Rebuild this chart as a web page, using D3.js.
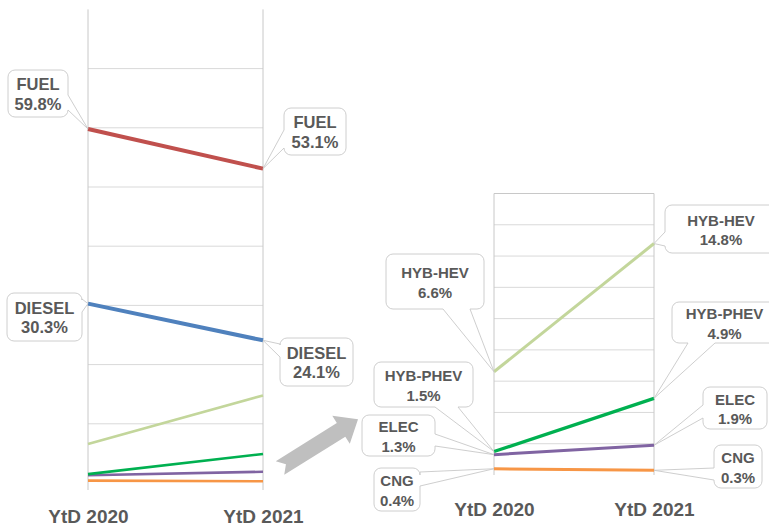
<!DOCTYPE html>
<html><head><meta charset="utf-8">
<script src="https://cdn.jsdelivr.net/npm/d3@7"></script>
<style>html,body{margin:0;padding:0;background:#fff;}svg{display:block;font-family:"Liberation Sans",Arial,sans-serif;}</style>
</head><body>
<script>
const categories = ["YtD 2020", "YtD 2021"];
const series = ["FUEL", "DIESEL", "HYB-HEV", "HYB-PHEV", "ELEC", "CNG"];
const ytd2020 = [59.8, 30.3, 6.6, 1.5, 1.3, 0.4];
const ytd2021 = [53.1, 24.1, 14.8, 4.9, 1.9, 0.3];
const leftTicks = [10, 20, 30, 40, 50, 60, 70];
const rightTicks = [2, 4, 6, 8, 10, 12, 14, 16];
const zoomSeries = ["HYB-HEV", "HYB-PHEV", "ELEC", "CNG"];

const colors = {"FUEL":"#c0504d","DIESEL":"#4f81bd","HYB-HEV":"#c3d69b","HYB-PHEV":"#00b050","ELEC":"#8064a2","CNG":"#f79646"};
const textColor = "#595959";

const W = 769, H = 526;
const svg = d3.select("body").append("svg").attr("width", W).attr("height", H);

const rows = series.map((s, i) => ({name: s, values: [ytd2020[i], ytd2021[i]]}));

// scales
const xL = d3.scalePoint().domain(categories).range([88, 263]);
const yL = d3.scaleLinear().domain([0, 80]).range([483, 9.4]);
const xR = d3.scalePoint().domain(categories).range([494, 654]);
const yR = d3.scaleLinear().domain([0, 18]).range([475, 193.5]);

// ---- left chart frame
const gL = svg.append("g");
gL.selectAll("line.grid").data(leftTicks).join("line")
  .attr("x1", xL(categories[0])).attr("x2", xL(categories[1]))
  .attr("y1", d => yL(d)).attr("y2", d => yL(d))
  .attr("stroke", "#d9d9d9").attr("stroke-width", 1);
gL.selectAll("line.vert").data(categories).join("line")
  .attr("x1", d => xL(d)).attr("x2", d => xL(d))
  .attr("y1", yL(80)).attr("y2", 490)
  .attr("stroke", "#c8c8c8").attr("stroke-width", 1);

// ---- right chart frame
const gR = svg.append("g");
gR.selectAll("line.grid").data(rightTicks).join("line")
  .attr("x1", xR(categories[0])).attr("x2", xR(categories[1]))
  .attr("y1", d => yR(d)).attr("y2", d => yR(d))
  .attr("stroke", "#d9d9d9").attr("stroke-width", 1);
gR.append("line").attr("x1", xR(categories[0])).attr("x2", xR(categories[1]))
  .attr("y1", yR(18)).attr("y2", yR(18)).attr("stroke", "#c8c8c8");
gR.selectAll("line.vert").data(categories).join("line")
  .attr("x1", d => xR(d)).attr("x2", d => xR(d))
  .attr("y1", yR(18)).attr("y2", yR(0))
  .attr("stroke", "#c8c8c8").attr("stroke-width", 1);

// ---- lines
const lineL = d3.line().x((d, i) => xL(categories[i])).y(d => yL(d));
const lineR = d3.line().x((d, i) => xR(categories[i])).y(d => yR(d));
const drawOrder = ["CNG", "ELEC", "HYB-PHEV", "HYB-HEV", "DIESEL", "FUEL"];
drawOrder.forEach(n => {
  const r = rows.find(r => r.name === n);
  gL.append("path").attr("d", lineL(r.values)).attr("fill", "none")
    .attr("stroke", colors[n]).attr("stroke-width", (n === "FUEL" || n === "DIESEL") ? 4 : 2.6);
});
drawOrder.filter(n => zoomSeries.includes(n)).forEach(n => {
  const r = rows.find(r => r.name === n);
  gR.append("path").attr("d", lineR(r.values)).attr("fill", "none")
    .attr("stroke", colors[n]).attr("stroke-width", n === "HYB-PHEV" ? 3.3 : 3);
});

// ---- axis category labels
function catAxis(x, baseline) {
  const g = svg.append("g").attr("transform", `translate(0,${baseline})`)
    .call(d3.axisBottom(x).tickSize(0).tickPadding(0));
  g.select(".domain").remove();
  g.selectAll("text").attr("dy", null).attr("y", 0)
    .attr("fill", textColor).attr("font-size", 19).attr("font-weight", "bold")
    .attr("font-family", "Liberation Sans, Arial, sans-serif");
}
catAxis(xL, 523);
catAxis(xR, 516);

// ---- arrow
const arrowLen = 92;
svg.append("path")
  .attr("transform", "translate(280,468) rotate(-32)")
  .attr("d", `M0,-8 L${arrowLen-20},-8 L${arrowLen-20},-16.5 L${arrowLen},0 L${arrowLen-20},16.5 L${arrowLen-20},8 L0,8 L7,0 Z`)
  .attr("fill", "#bfbfbf");

// ---- callouts (layout of boxes; anchor points come from data via scales)
const callouts = [
  {chart:"L", s:"FUEL", c:0, x:8, y:70, w:60, h:47, side:"right", b1:95, b2:110, fs:16.5},
  {chart:"L", s:"FUEL", c:1, x:284, y:108, w:62, h:47, side:"left", b1:130, b2:148, fs:16.5},
  {chart:"L", s:"DIESEL", c:0, x:7, y:293, w:75, h:48, side:"right", b1:299, b2:312, fs:16.5},
  {chart:"L", s:"DIESEL", c:1, x:280, y:338, w:73, h:48, side:"left", b1:344, b2:357, fs:16.5},
  {chart:"R", s:"HYB-HEV", c:0, x:386, y:254, w:98, h:55, side:"bottom", b1:443, b2:470, fs:15},
  {chart:"R", s:"HYB-HEV", c:1, x:665, y:205, w:112, h:48, side:"left", b1:232, b2:246, fs:15},
  {chart:"R", s:"HYB-PHEV", c:1, x:672, y:302, w:105, h:41, side:"bottom", b1:688, b2:715, fs:15},
  {chart:"R", s:"ELEC", c:1, x:703, y:387, w:64, h:42, side:"left", b1:405, b2:418, fs:15},
  {chart:"R", s:"CNG", c:1, x:714, y:445, w:48, h:43, side:"left", b1:468, b2:480, fs:15},
  {chart:"R", s:"HYB-PHEV", c:0, x:374, y:362, w:99, h:45, side:"bottom", b1:435, b2:458, fs:15},
  {chart:"R", s:"ELEC", c:0, x:362, y:415, w:73, h:41, side:"right", b1:434, b2:446, fs:15},
  {chart:"R", s:"CNG", c:0, x:374, y:468, w:46, h:43, side:"right", b1:472, b2:486, fs:15}
];

function calloutPath(o, px, py) {
  const {x, y, w, h} = o, r = 7;
  let p = `M${x+r},${y}`;
  if (o.side === "top") p += ` L${o.b1},${y} L${px},${py} L${o.b2},${y}`;
  p += ` L${x+w-r},${y} A${r},${r} 0 0 1 ${x+w},${y+r}`;
  if (o.side === "right") p += ` L${x+w},${o.b1} L${px},${py} L${x+w},${o.b2}`;
  p += ` L${x+w},${y+h-r} A${r},${r} 0 0 1 ${x+w-r},${y+h}`;
  if (o.side === "bottom") p += ` L${o.b2},${y+h} L${px},${py} L${o.b1},${y+h}`;
  p += ` L${x+r},${y+h} A${r},${r} 0 0 1 ${x},${y+h-r}`;
  if (o.side === "left") p += ` L${x},${o.b2} L${px},${py} L${x},${o.b1}`;
  p += ` L${x},${y+r} A${r},${r} 0 0 1 ${x+r},${y} Z`;
  return p;
}

const gC = svg.append("g");
callouts.forEach(o => {
  const r = rows.find(r => r.name === o.s);
  const v = r.values[o.c];
  const xs = o.chart === "L" ? xL : xR, ys = o.chart === "L" ? yL : yR;
  const px = xs(categories[o.c]), py = ys(v);
  gC.append("path").attr("d", calloutPath(o, px, py))
    .attr("fill", "#fff").attr("stroke", "#c8c8c8").attr("stroke-width", 0.9);
  const cx = o.x + o.w / 2, cy = o.y + o.h / 2;
  const t = gC.append("text").attr("text-anchor", "middle").attr("fill", textColor)
    .attr("font-size", o.fs).attr("font-weight", "bold");
  t.append("tspan").attr("x", cx).attr("y", cy - 3.5).text(o.s);
  t.append("tspan").attr("x", cx).attr("y", cy + 16).text(d3.format(".1f")(v) + "%");
});
</script>
</body></html>
